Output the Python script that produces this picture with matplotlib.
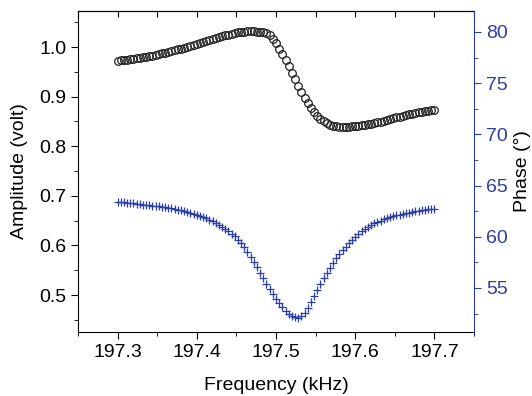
import matplotlib
matplotlib.use("Agg")
import matplotlib.pyplot as plt
import numpy as np
from matplotlib.ticker import MultipleLocator

plt.rcParams['font.family'] = ['Liberation Sans', 'DejaVu Sans']

# frequency sweep (kHz), 101 points
freq = np.linspace(197.3, 197.7, 101)

# amplitude (volt)
amplitude = [
    0.972, 0.973, 0.973, 0.974, 0.975, 0.976, 0.977, 0.978, 0.979, 0.980,
    0.981, 0.982, 0.984, 0.985, 0.987, 0.988, 0.990, 0.991, 0.993, 0.995,
    0.996, 0.998, 1.000, 1.002, 1.004, 1.006, 1.008, 1.010, 1.012, 1.014,
    1.016, 1.018, 1.020, 1.022, 1.024, 1.025, 1.027, 1.028, 1.030, 1.031,
    1.031, 1.032, 1.032, 1.032, 1.031, 1.030, 1.030, 1.028, 1.024, 1.017,
    1.008, 0.997, 0.985, 0.973, 0.961, 0.948, 0.935, 0.922, 0.910, 0.898,
    0.887, 0.877, 0.868, 0.861, 0.855, 0.850, 0.846, 0.843, 0.841, 0.840,
    0.839, 0.839, 0.839, 0.839, 0.840, 0.840, 0.841, 0.842, 0.843, 0.844,
    0.845, 0.846, 0.848, 0.849, 0.851, 0.853, 0.855, 0.856, 0.858, 0.859,
    0.861, 0.862, 0.864, 0.865, 0.867, 0.868, 0.869, 0.870, 0.872, 0.873,
    0.874,
]

# phase (degrees)
phase = [
    63.40, 63.38, 63.35, 63.32, 63.29, 63.26, 63.22, 63.18, 63.15, 63.11,
    63.08, 63.05, 63.02, 62.99, 62.95, 62.90, 62.85, 62.79, 62.72, 62.65,
    62.57, 62.49, 62.40, 62.31, 62.22, 62.12, 62.02, 61.92, 61.80, 61.67,
    61.52, 61.36, 61.19, 61.00, 60.80, 60.57, 60.32, 60.04, 59.72, 59.36,
    58.96, 58.52, 58.04, 57.54, 57.02, 56.48, 55.94, 55.40, 54.88, 54.39,
    53.94, 53.54, 53.15, 52.80, 52.50, 52.28, 52.15, 52.10, 52.25, 52.60,
    53.05, 53.62, 54.22, 54.82, 55.42, 55.98, 56.50, 56.98, 57.44, 57.88,
    58.30, 58.68, 59.04, 59.38, 59.70, 60.00, 60.27, 60.52, 60.75, 60.96,
    61.15, 61.31, 61.45, 61.58, 61.70, 61.81, 61.91, 62.00, 62.08, 62.16,
    62.23, 62.30, 62.36, 62.42, 62.47, 62.52, 62.57, 62.62, 62.67, 62.72,
    62.76,
]

blue = '#2b3ea8'

fig = plt.figure(figsize=(5.32, 3.96), dpi=100)
ax = fig.add_axes([0.1466, 0.1616, 0.7444, 0.8106])

ax.plot(freq, amplitude, 'o', mfc='none', mec='#222222', ms=5.5, mew=0.9)
ax.set_xlim(197.25, 197.75)
ax.set_ylim(0.4254, 1.0726)
ax.xaxis.set_major_locator(MultipleLocator(0.1))
ax.xaxis.set_minor_locator(MultipleLocator(0.05))
ax.yaxis.set_major_locator(MultipleLocator(0.1))
ax.yaxis.set_minor_locator(MultipleLocator(0.05))
ax.tick_params(which='major', direction='out', length=5, labelsize=14)
ax.tick_params(which='minor', direction='out', length=3)
ax.set_xlabel('Frequency (kHz)', fontsize=14)
ax.set_ylabel('Amplitude (volt)', fontsize=14)
ax.xaxis.set_label_coords(0.5, -0.14)
ax.yaxis.set_label_coords(-0.126, 0.5)
ax.spines['right'].set_visible(False)

# top ticks point inward, no labels
top = ax.secondary_xaxis('top')
top.xaxis.set_major_locator(MultipleLocator(0.05))
top.tick_params(direction='in', length=4, labeltop=False)

ax2 = ax.twinx()
ax2.plot(freq, phase, '+', color=blue, ms=6, mew=0.9)
ax2.set_ylim(50.7, 82.05)
ax2.yaxis.set_major_locator(MultipleLocator(5))
ax2.yaxis.set_minor_locator(MultipleLocator(2.5))
ax2.tick_params(which='major', direction='out', length=5, labelsize=14,
                colors=blue)
ax2.tick_params(which='minor', direction='out', length=3, colors=blue)
ax2.spines['right'].set_color(blue)
ax2.spines['left'].set_visible(False)
ax2.spines['top'].set_visible(False)
ax2.spines['bottom'].set_visible(False)
ax2.set_ylabel('Phase (°)', fontsize=14)
ax2.yaxis.set_label_coords(1.1, 0.5)

fig.savefig('out.png', dpi=100)
